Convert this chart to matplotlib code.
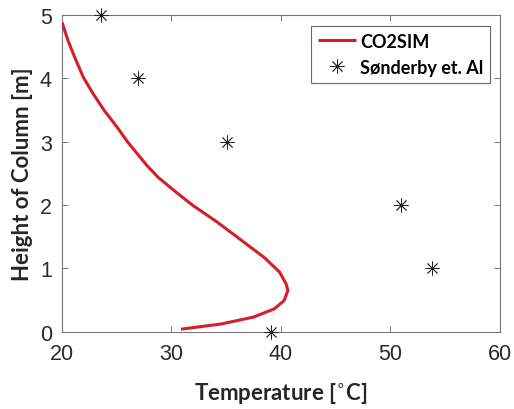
import matplotlib
matplotlib.use("Agg")
import matplotlib.pyplot as plt

# CO2SIM temperature profile along the column
sim_temp = [30.9, 34.5, 37.5, 39.4, 40.3, 40.65, 40.5, 39.9, 38.5, 36.2,
            34.2, 32.0, 30.1, 28.85, 27.8, 26.9, 26.0, 25.1, 23.9, 22.9,
            22.0, 21.2, 20.6, 20.05]
sim_height = [0.04, 0.12, 0.23, 0.36, 0.49, 0.65, 0.75, 0.94, 1.17, 1.47,
              1.73, 1.99, 2.25, 2.43, 2.62, 2.81, 3.0, 3.22, 3.49, 3.75,
              4.01, 4.33, 4.59, 4.88]

# Measured values (Sønderby et al.)
meas_temp = [39.1, 53.8, 51.0, 35.1, 27.0, 23.6]
meas_height = [0, 1, 2, 3, 4, 5]

x_ticks = [20, 30, 40, 50, 60]
y_ticks = [0, 1, 2, 3, 4, 5]

fig = plt.figure(figsize=(5.14, 4.10), dpi=100)
ax = fig.add_axes([0.1197, 0.1885, 0.853, 0.773])

ax.plot(sim_temp, sim_height, color="#D41F26", lw=2.2, label="CO2SIM",
        solid_capstyle="butt", solid_joinstyle="round", zorder=3)
ax.plot(meas_temp, meas_height, linestyle="none", marker=(8, 2, 0),
        markersize=10, markeredgewidth=0.6, color="#222222",
        label="Sønderby et. Al", zorder=4, clip_on=False)

ax.set_xlim(20, 60)
ax.set_ylim(0, 5)
ax.set_xticks(x_ticks)
ax.set_yticks(y_ticks)

tick_font = {"family": "Liberation Sans", "size": 15.5}
ax.set_xticklabels([str(t) for t in x_ticks], fontdict=tick_font, color="#2b2b2b")
ax.set_yticklabels([str(t) for t in y_ticks], fontdict=tick_font, color="#2b2b2b")
ax.tick_params(direction="in", length=4, width=0.7, color="#777777",
               top=True, right=True)
ax.tick_params(axis="x", pad=8)
ax.tick_params(axis="y", pad=7)
for s in ax.spines.values():
    s.set_color("#777777")
    s.set_linewidth(0.8)

label_font = {"family": "Lato", "weight": "bold", "size": 16}
ax.set_xlabel("Temperature [$^{\\circ}$C]", fontdict=label_font,
              color="#262626", labelpad=12)
ax.set_ylabel("Height of Column [m]", fontdict=label_font,
              color="#262626", labelpad=5)

leg = ax.legend(loc="upper right", bbox_to_anchor=(0.977, 0.965),
                borderaxespad=0,
                prop={"family": "Lato", "weight": "bold", "size": 13},
                frameon=True, fancybox=False, handlelength=2.1,
                borderpad=0.38, labelspacing=0.5, handletextpad=0.22)
leg.get_frame().set_edgecolor("#444444")
leg.get_frame().set_linewidth(0.8)

fig.savefig("out.png", dpi=100)
